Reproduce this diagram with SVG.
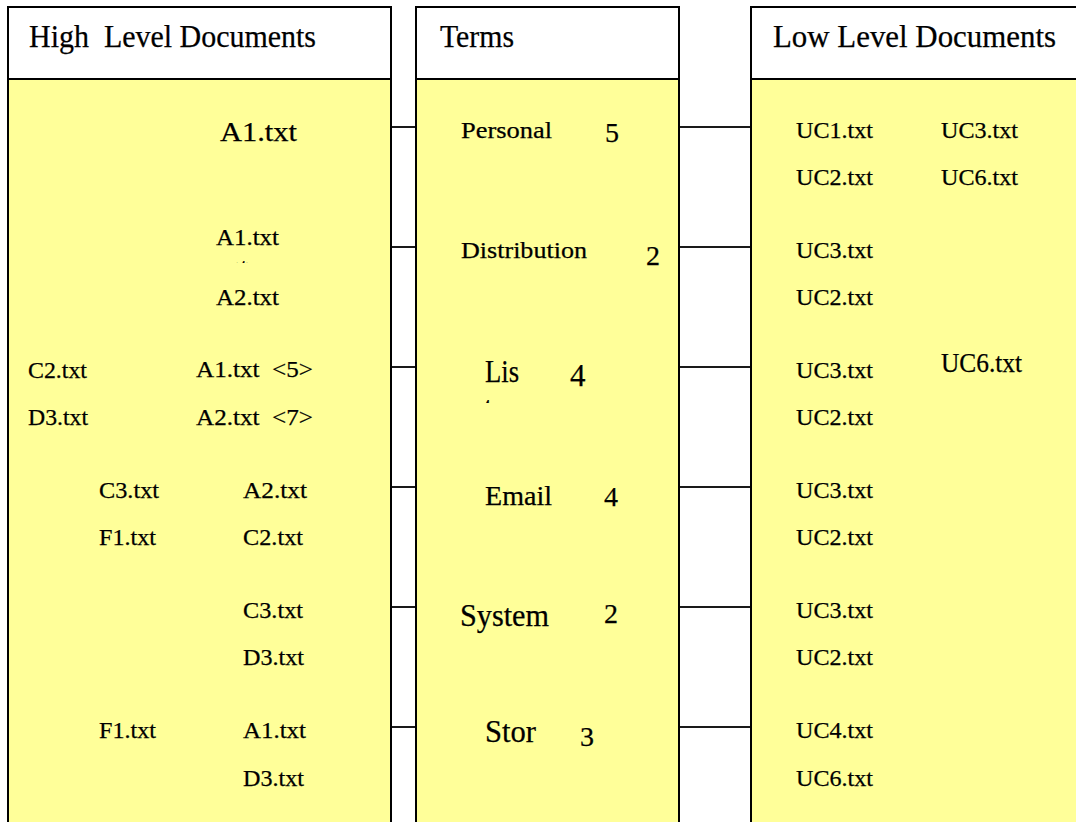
<svg xmlns="http://www.w3.org/2000/svg" width="1076" height="822" viewBox="0 0 1076 822" font-family="'Liberation Serif','Times New Roman',serif">
<style>
.hdr{fill:#ffffff;stroke:#000;stroke-width:2}
.body{fill:#ffff99;stroke:#000;stroke-width:2}
text{font-family:"Liberation Serif","Times New Roman",serif;fill:#000;stroke:#000;stroke-width:0.25}
.h{font-size:32px}
.s{font-size:24px}
.m{font-size:28px}
.l{font-size:31px}
.conn{stroke:#1a1a1a;stroke-width:2;fill:none}
</style>
<defs>
<clipPath id="clip4"><rect x="200" y="250" width="100" height="13"/></clipPath>
<clipPath id="clipT"><rect x="470" y="390" width="40" height="13"/></clipPath>
</defs>
<rect x="0" y="0" width="1076" height="822" fill="#ffffff"/>
<g id="connectors">
<line class="conn" x1="391" y1="127" x2="416" y2="127"/>
<line class="conn" x1="391" y1="247" x2="416" y2="247"/>
<line class="conn" x1="391" y1="367" x2="416" y2="367"/>
<line class="conn" x1="391" y1="487" x2="416" y2="487"/>
<line class="conn" x1="391" y1="607" x2="416" y2="607"/>
<line class="conn" x1="391" y1="727" x2="416" y2="727"/>
<line class="conn" x1="679" y1="127" x2="751" y2="127"/>
<line class="conn" x1="679" y1="247" x2="751" y2="247"/>
<line class="conn" x1="679" y1="367" x2="751" y2="367"/>
<line class="conn" x1="679" y1="487" x2="751" y2="487"/>
<line class="conn" x1="679" y1="607" x2="751" y2="607"/>
<line class="conn" x1="679" y1="727" x2="751" y2="727"/>
</g>
<g id="high-level">
<rect class="hdr" x="8" y="7" width="383" height="72"/>
<rect class="body" x="8" y="79" width="383" height="760"/>
<text class="h" x="29" y="47" textLength="287" lengthAdjust="spacingAndGlyphs" xml:space="preserve">High  Level Documents</text>
<text class="m" x="220" y="141" textLength="77" lengthAdjust="spacingAndGlyphs">A1.txt</text>
<text class="s" x="216" y="245" textLength="63" lengthAdjust="spacingAndGlyphs">A1.txt</text>
<text class="s" x="229" y="276" textLength="26" lengthAdjust="spacingAndGlyphs" clip-path="url(#clip4)">&lt;4&gt;</text>
<text class="s" x="216" y="305" textLength="63" lengthAdjust="spacingAndGlyphs">A2.txt</text>
<text class="s" x="28" y="378" textLength="59" lengthAdjust="spacingAndGlyphs">C2.txt</text>
<text class="s" x="196" y="377" textLength="117" lengthAdjust="spacingAndGlyphs" xml:space="preserve">A1.txt  &lt;5&gt;</text>
<text class="s" x="28" y="425" textLength="60" lengthAdjust="spacingAndGlyphs">D3.txt</text>
<text class="s" x="196" y="425" textLength="117" lengthAdjust="spacingAndGlyphs" xml:space="preserve">A2.txt  &lt;7&gt;</text>
<text class="s" x="99" y="498" textLength="60" lengthAdjust="spacingAndGlyphs">C3.txt</text>
<text class="s" x="243" y="498" textLength="64" lengthAdjust="spacingAndGlyphs">A2.txt</text>
<text class="s" x="99" y="545" textLength="57" lengthAdjust="spacingAndGlyphs">F1.txt</text>
<text class="s" x="243" y="545" textLength="60" lengthAdjust="spacingAndGlyphs">C2.txt</text>
<text class="s" x="243" y="618" textLength="60" lengthAdjust="spacingAndGlyphs">C3.txt</text>
<text class="s" x="243" y="665" textLength="61" lengthAdjust="spacingAndGlyphs">D3.txt</text>
<text class="s" x="99" y="738" textLength="57" lengthAdjust="spacingAndGlyphs">F1.txt</text>
<text class="s" x="243" y="738" textLength="63" lengthAdjust="spacingAndGlyphs">A1.txt</text>
<text class="s" x="243" y="786" textLength="61" lengthAdjust="spacingAndGlyphs">D3.txt</text>
</g>
<g id="terms">
<rect class="hdr" x="416" y="7" width="263" height="72"/>
<rect class="body" x="416" y="79" width="263" height="760"/>
<text class="h" x="440" y="47" textLength="74" lengthAdjust="spacingAndGlyphs">Terms</text>
<text class="s" x="461" y="138" textLength="91" lengthAdjust="spacingAndGlyphs">Personal</text>
<text class="m" x="605" y="142">5</text>
<text class="s" x="461" y="258" textLength="126" lengthAdjust="spacingAndGlyphs">Distribution</text>
<text class="m" x="646" y="265">2</text>
<text class="l" x="485" y="382" textLength="34" lengthAdjust="spacingAndGlyphs">Lis</text>
<text class="l" x="484" y="418" clip-path="url(#clipT)">t</text>
<text class="l" x="570" y="386">4</text>
<text class="m" x="485" y="505" textLength="67" lengthAdjust="spacingAndGlyphs">Email</text>
<text class="m" x="604" y="506">4</text>
<text class="l" x="460" y="626" textLength="89" lengthAdjust="spacingAndGlyphs">System</text>
<text class="m" x="604" y="623">2</text>
<text class="l" x="485" y="742" textLength="51" lengthAdjust="spacingAndGlyphs">Stor</text>
<text class="m" x="580" y="746">3</text>
</g>
<g id="low-level">
<rect class="hdr" x="751" y="7" width="340" height="72"/>
<rect class="body" x="751" y="79" width="340" height="760"/>
<text class="h" x="773" y="47" textLength="283" lengthAdjust="spacingAndGlyphs">Low Level Documents</text>
<text class="s" x="796" y="138" textLength="77" lengthAdjust="spacingAndGlyphs">UC1.txt</text>
<text class="s" x="941" y="138" textLength="77" lengthAdjust="spacingAndGlyphs">UC3.txt</text>
<text class="s" x="796" y="185" textLength="77" lengthAdjust="spacingAndGlyphs">UC2.txt</text>
<text class="s" x="941" y="185" textLength="77" lengthAdjust="spacingAndGlyphs">UC6.txt</text>
<text class="s" x="796" y="258" textLength="77" lengthAdjust="spacingAndGlyphs">UC3.txt</text>
<text class="s" x="796" y="305" textLength="77" lengthAdjust="spacingAndGlyphs">UC2.txt</text>
<text class="s" x="796" y="378" textLength="77" lengthAdjust="spacingAndGlyphs">UC3.txt</text>
<text class="m" x="941" y="372" textLength="81" lengthAdjust="spacingAndGlyphs">UC6.txt</text>
<text class="s" x="796" y="425" textLength="77" lengthAdjust="spacingAndGlyphs">UC2.txt</text>
<text class="s" x="796" y="498" textLength="77" lengthAdjust="spacingAndGlyphs">UC3.txt</text>
<text class="s" x="796" y="545" textLength="77" lengthAdjust="spacingAndGlyphs">UC2.txt</text>
<text class="s" x="796" y="618" textLength="77" lengthAdjust="spacingAndGlyphs">UC3.txt</text>
<text class="s" x="796" y="665" textLength="77" lengthAdjust="spacingAndGlyphs">UC2.txt</text>
<text class="s" x="796" y="738" textLength="77" lengthAdjust="spacingAndGlyphs">UC4.txt</text>
<text class="s" x="796" y="786" textLength="77" lengthAdjust="spacingAndGlyphs">UC6.txt</text>
</g>
</svg>
